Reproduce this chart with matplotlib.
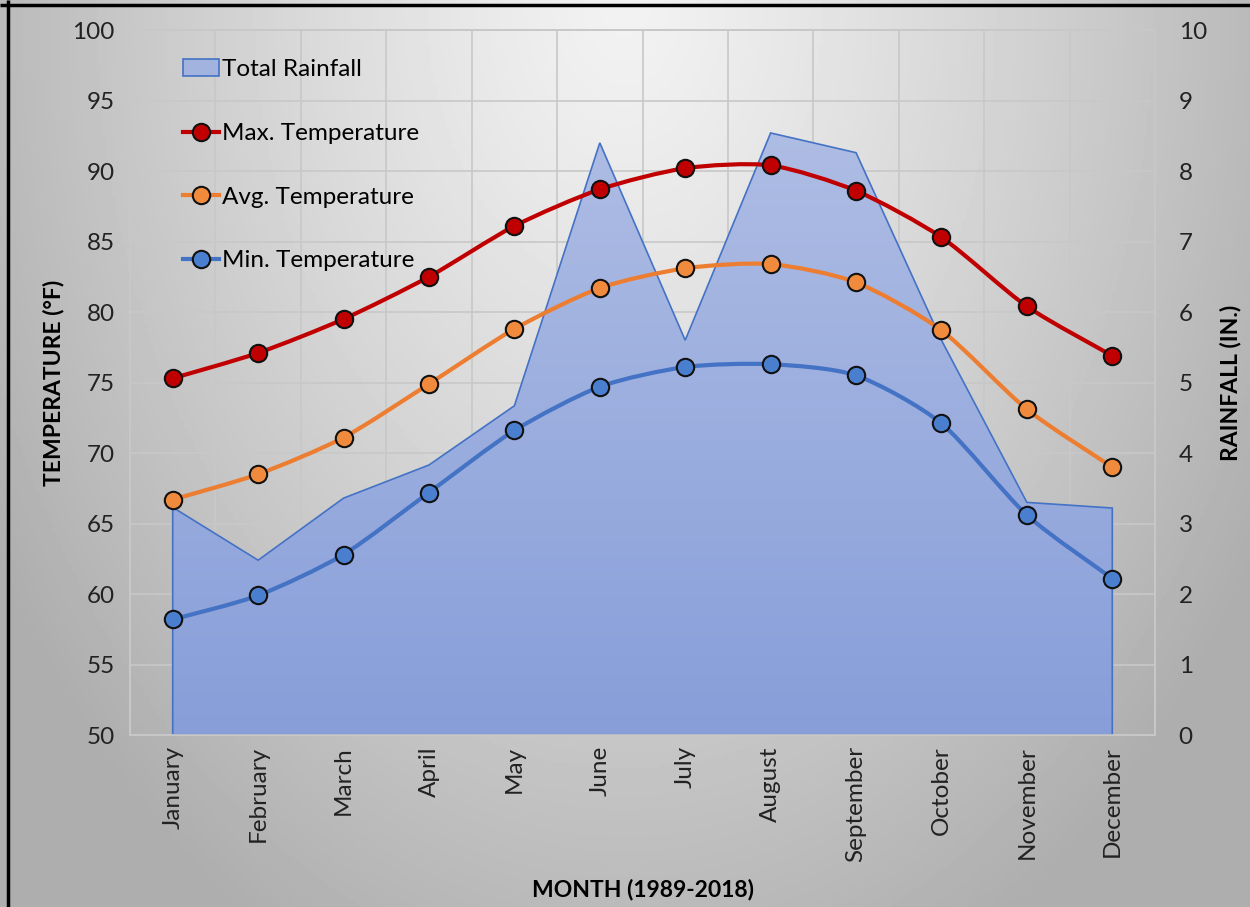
"""
Monthly climate chart: rainfall area + max/avg/min temperature lines
"""

import numpy as np
import matplotlib

matplotlib.use("Agg")
import matplotlib.pyplot as plt  # noqa: E402
from matplotlib.path import Path  # noqa: E402
from matplotlib.patches import PathPatch, Polygon, Patch  # noqa: E402
from matplotlib.lines import Line2D  # noqa: E402
from matplotlib.colors import LinearSegmentedColormap  # noqa: E402
from matplotlib.ticker import FixedLocator, MultipleLocator  # noqa: E402

plt.rcParams["font.family"] = ["Lato", "DejaVu Sans"]

months = ["January", "February", "March", "April", "May", "June",
          "July", "August", "September", "October", "November", "December"]
max_temp = [75.3, 77.1, 79.5, 82.5, 86.1, 88.7, 90.2, 90.4, 88.6, 85.3, 80.4, 76.9]
avg_temp = [66.7, 68.5, 71.1, 74.9, 78.8, 81.7, 83.1, 83.4, 82.1, 78.7, 73.1, 69.0]
min_temp = [58.2, 59.9, 62.8, 67.2, 71.6, 74.7, 76.1, 76.3, 75.5, 72.1, 65.6, 61.1]
rainfall = [3.23, 2.48, 3.36, 3.83, 4.67, 8.40, 5.60, 8.54, 8.26, 5.60, 3.30, 3.22]


def smooth_path(xs, ys, k=8.0):
    """Bezier path through the points (like Excel's smoothed line)"""
    pts = np.column_stack([xs, ys]).astype(float)
    n = len(pts)
    verts = [pts[0]]
    codes = [Path.MOVETO]
    for i in range(n - 1):
        p0 = pts[i - 1] if i > 0 else pts[i]
        p1, p2 = pts[i], pts[i + 1]
        p3 = pts[i + 2] if i + 2 < n else pts[i + 1]
        verts += [p1 + (p2 - p0) / k, p2 - (p3 - p1) / k, p2]
        codes += [Path.CURVE4] * 3
    return Path(verts, codes)


fig = plt.figure(figsize=(12.5, 9.07), dpi=100)

# background gradient
bg = fig.add_axes([0, 0, 1, 1], zorder=-10)
gy, gx = np.mgrid[0:1:300j, 0:1:400j]
r = np.sqrt(((gx - 0.5) / 0.5) ** 2 + (gy / 1.0) ** 2)
shade = np.clip(0.95 - 0.22 * r ** 1.2, 0.68, 0.95)
bg.imshow(shade, cmap="gray", vmin=0, vmax=1, aspect="auto", extent=(0, 1, 1, 0))
bg.set_xlim(0, 1)
bg.set_ylim(1, 0)
bg.axis("off")
bg.plot([0.006, 0.006], [0.0, 1.0], color="black", lw=2.5, solid_capstyle="butt")
bg.plot([0.0, 1.0], [0.006, 0.006], color="black", lw=2.5, solid_capstyle="butt")

ax = fig.add_axes([0.104, 0.1896, 0.82, 0.7773])
ax_r = ax.twinx()
ax.set_zorder(ax_r.get_zorder() + 1)
ax.patch.set_visible(False)
ax_r.patch.set_visible(False)

x = np.arange(len(months))

# rainfall area with vertical gradient
fill_color = "#4472c4"
poly_xy = np.vstack([[x[0], 0], np.column_stack([x, rainfall]), [x[-1], 0]])
area = Polygon(poly_xy, closed=True, facecolor="none", edgecolor=fill_color, lw=1.2, zorder=3)
ax_r.add_patch(area)
grad_cmap = LinearSegmentedColormap.from_list("rain", ["#879ed9", "#b5c2e6"])
grad = np.linspace(0, 1, 256).reshape(-1, 1)
img = ax_r.imshow(grad, cmap=grad_cmap, aspect="auto", origin="lower",
                  extent=(-0.5, 11.5, 0, 10), zorder=2)
img.set_clip_path(area)

ax_r.set_ylim(0, 10)
ax_r.yaxis.set_major_locator(MultipleLocator(1))
ax_r.xaxis.set_visible(True)
ax_r.tick_params(axis="x", which="both", labelbottom=False, length=0)
ax_r.grid(True, axis="y", which="major", color="#c8c8c8", lw=1.2, zorder=0)
ax_r.grid(True, axis="x", which="minor", color="#c8c8c8", lw=1.2, zorder=0)
ax_r.set_axisbelow(True)

# temperature lines
series = [
    (max_temp, "#c00000", "#c00000", "Max. Temperature"),
    (avg_temp, "#ed7d31", "#f08a3c", "Avg. Temperature"),
    (min_temp, "#4472c4", "#4a7fd0", "Min. Temperature"),
]
for vals, lc, mc, lab in series:
    ax.add_patch(PathPatch(smooth_path(x, vals), facecolor="none", edgecolor=lc, lw=3, zorder=4))
    ax.plot(x, vals, ls="none", marker="o", ms=12.5, mfc=mc, mec="#111111", mew=1.5, zorder=5)

ax.set_xlim(-0.5, 11.5)
ax.set_ylim(50, 100)
ax.yaxis.set_major_locator(MultipleLocator(5))
ax.set_xticks(x)
ax.set_xticklabels(months, rotation=90, fontsize=17.5, color="#222222")
ax.xaxis.set_minor_locator(FixedLocator(np.arange(-0.5, 12, 1)))
ax.tick_params(axis="x", which="both", length=0, pad=8)
ax.tick_params(axis="y", length=0, labelsize=17.5, labelcolor="#222222", pad=11)
ax_r.tick_params(axis="y", length=0, labelsize=17.5, labelcolor="#222222", pad=17)

for a in (ax, ax_r):
    for s in a.spines.values():
        s.set_color("#c8c8c8")
        s.set_linewidth(1.2)

ax.set_ylabel("TEMPERATURE (°F)", fontsize=16.5, fontweight="bold", labelpad=6)
ax_r.set_ylabel("RAINFALL (IN.)", fontsize=16.5, fontweight="bold", labelpad=9)
ax.set_xlabel("MONTH (1989-2018)", fontsize=16.5, fontweight="bold", labelpad=12)

handles = [Patch(facecolor="#a3b3e0", edgecolor=fill_color, lw=1.2)]
for vals, lc, mc, lab in series:
    handles.append(Line2D([], [], color=lc, lw=3, marker="o", ms=12.5, mfc=mc, mec="#111111", mew=1.5))
labels = ["Total Rainfall"] + [s[3] for s in series]
ax.legend(handles, labels, loc="upper left", bbox_to_anchor=(0.042, 0.972), frameon=False,
          fontsize=17.5, labelspacing=1.75, handlelength=1.5, handletextpad=0.1,
          borderaxespad=0)

fig.savefig("out.png", dpi=100)
